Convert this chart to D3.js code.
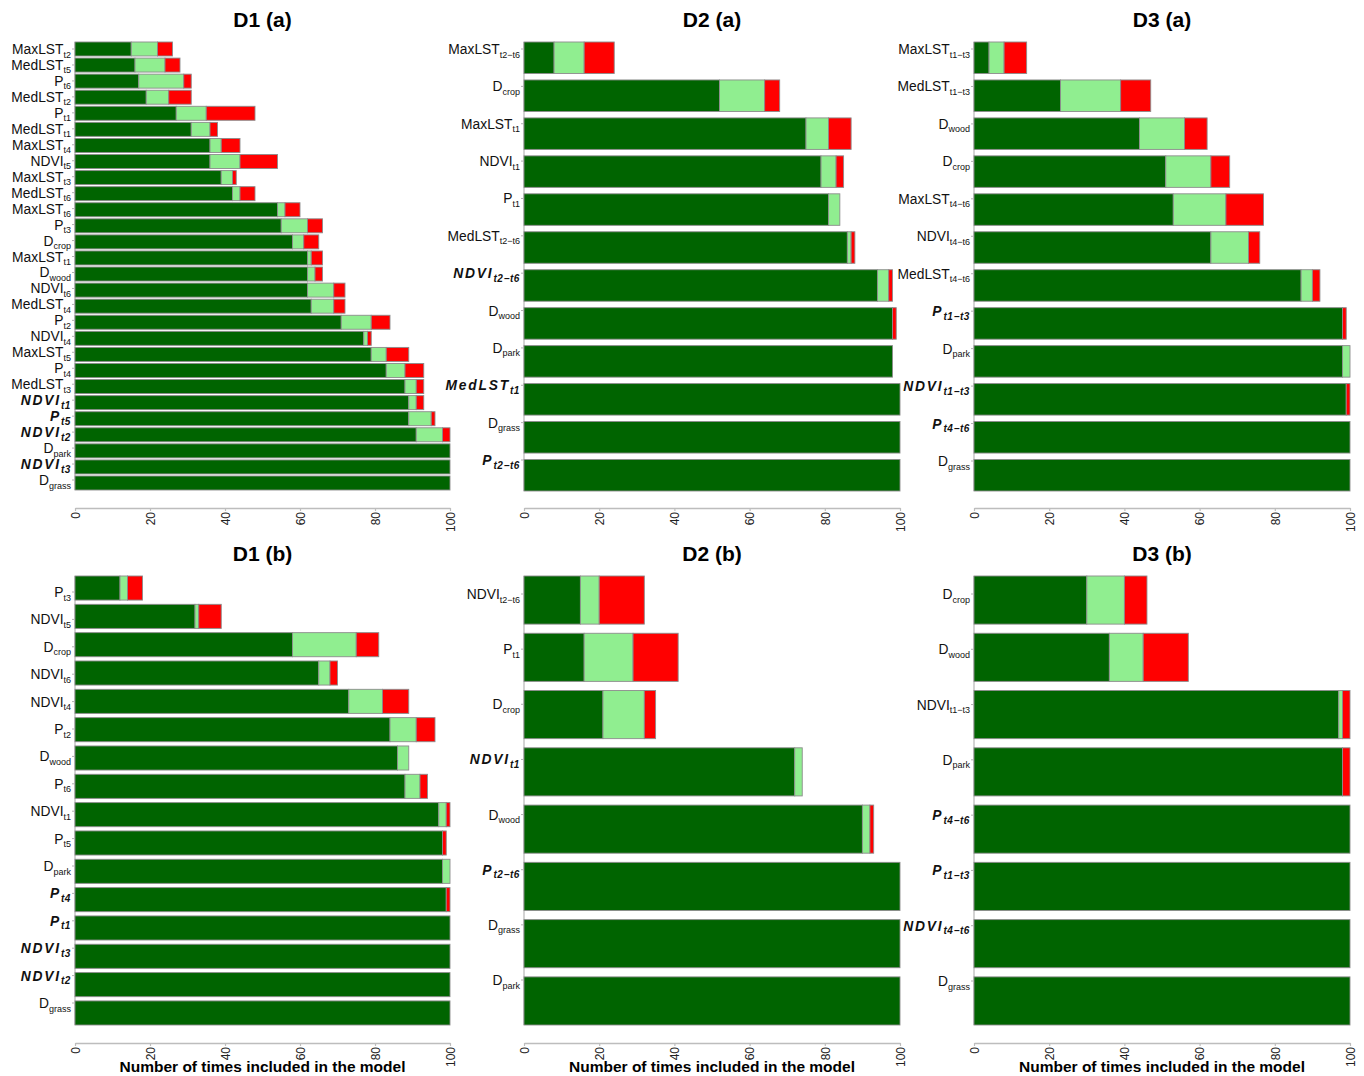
<!DOCTYPE html>
<html>
<head>
<meta charset="utf-8">
<script src="https://cdn.jsdelivr.net/npm/d3@7"></script>
<style>
body{margin:0;background:#fff}
text{font-family:"Liberation Sans",Arial,sans-serif}
</style>
</head>
<body>
<svg id="chart" width="1364" height="1076"></svg>
<script>
// values: dark = selected, light = ..., red = ...  (per variable, out of 100)
// D1 (a)
var d1aLabels = ['MaxLST_t2','MedLST_t5','P_t6','MedLST_t2','P_t1','MedLST_t1','MaxLST_t4','NDVI_t5','MaxLST_t3','MedLST_t6',
                 'MaxLST_t6','P_t3','D_crop','MaxLST_t1','D_wood','NDVI_t6','MedLST_t4','P_t2','NDVI_t4','MaxLST_t5',
                 'P_t4','MedLST_t3','NDVI_t1','P_t5','NDVI_t2','D_park','NDVI_t3','D_grass'];
var d1aDark  = [15,16,17,19,27,31,36,36,39,42,54,55,58,62,62,62,63,71,77,79,83,88,89,89,91,100,100,100];
var d1aLight = [7,8,12,6,8,5,3,8,3,2,2,7,3,1,2,7,6,8,1,4,5,3,2,6,7,0,0,0];
var d1aRed   = [4,4,2,6,13,2,5,10,1,4,4,4,4,3,2,3,3,5,1,6,5,2,2,1,2,0,0,0];
var d1aBold  = ['NDVI_t1','P_t5','NDVI_t2','NDVI_t3'];

// D2 (a)
var d2aLabels = ['MaxLST_t2−t6','D_crop','MaxLST_t1','NDVI_t1','P_t1','MedLST_t2−t6','NDVI_t2−t6','D_wood','D_park','MedLST_t1','D_grass','P_t2−t6'];
var d2aDark  = [8,52,75,79,81,86,94,98,98,100,100,100];
var d2aLight = [8,12,6,4,3,1,3,0,0,0,0,0];
var d2aRed   = [8,4,6,2,0,1,1,1,0,0,0,0];
var d2aBold  = ['NDVI_t2−t6','MedLST_t1','P_t2−t6'];

// D3 (a)
var d3aLabels = ['MaxLST_t1−t3','MedLST_t1−t3','D_wood','D_crop','MaxLST_t4−t6','NDVI_t4−t6','MedLST_t4−t6','P_t1−t3','D_park','NDVI_t1−t3','P_t4−t6','D_grass'];
var d3aDark  = [4,23,44,51,53,63,87,98,98,99,100,100];
var d3aLight = [4,16,12,12,14,10,3,0,2,0,0,0];
var d3aRed   = [6,8,6,5,10,3,2,1,0,1,0,0];
var d3aBold  = ['P_t1−t3','NDVI_t1−t3','P_t4−t6'];

// D1 (b)
var d1bLabels = ['P_t3','NDVI_t5','D_crop','NDVI_t6','NDVI_t4','P_t2','D_wood','P_t6','NDVI_t1','P_t5','D_park','P_t4','P_t1','NDVI_t3','NDVI_t2','D_grass'];
var d1bDark  = [12,32,58,65,73,84,86,88,97,98,98,99,100,100,100,100];
var d1bLight = [2,1,17,3,9,7,3,4,2,0,2,0,0,0,0,0];
var d1bRed   = [4,6,6,2,7,5,0,2,1,1,0,1,0,0,0,0];
var d1bBold  = ['P_t4','P_t1','NDVI_t3','NDVI_t2'];

// D2 (b)
var d2bLabels = ['NDVI_t2−t6','P_t1','D_crop','NDVI_t1','D_wood','P_t2−t6','D_grass','D_park'];
var d2bDark  = [15,16,21,72,90,100,100,100];
var d2bLight = [5,13,11,2,2,0,0,0];
var d2bRed   = [12,12,3,0,1,0,0,0];
var d2bBold  = ['NDVI_t1','P_t2−t6'];

// D3 (b)
var d3bLabels = ['D_crop','D_wood','NDVI_t1−t3','D_park','P_t4−t6','P_t1−t3','NDVI_t4−t6','D_grass'];
var d3bDark  = [30,36,97,98,100,100,100,100];
var d3bLight = [10,9,1,0,0,0,0,0];
var d3bRed   = [6,12,2,2,0,0,0,0];
var d3bBold  = ['P_t4−t6','P_t1−t3','NDVI_t4−t6'];

var xTicks = [0,20,40,60,80,100];
var segKeys = ['dark','light','red'];
var segColors = {dark:'#006400', light:'#90ee90', red:'#ff0000'};
var axisTitle = 'Number of times included in the model';

var panels = [
  {title:'D1 (a)', labels:d1aLabels, dark:d1aDark, light:d1aLight, red:d1aRed, bold:d1aBold,
   x:[75,450], y:[42,490], pad:0.13, ly:[49,480], axisY:508, titleY:27, xlab:false},
  {title:'D2 (a)', labels:d2aLabels, dark:d2aDark, light:d2aLight, red:d2aRed, bold:d2aBold,
   x:[524,900], y:[42,491], pad:0.17, ly:[49,460], axisY:508, titleY:27, xlab:false},
  {title:'D3 (a)', labels:d3aLabels, dark:d3aDark, light:d3aLight, red:d3aRed, bold:d3aBold,
   x:[974,1350], y:[42,491], pad:0.17, ly:[49,461], axisY:508, titleY:27, xlab:false},
  {title:'D1 (b)', labels:d1bLabels, dark:d1bDark, light:d1bLight, red:d1bRed, bold:d1bBold,
   x:[75,450], y:[576,1025], pad:0.15, ly:[592,1003], axisY:1043, titleY:561, xlab:true},
  {title:'D2 (b)', labels:d2bLabels, dark:d2bDark, light:d2bLight, red:d2bRed, bold:d2bBold,
   x:[524,900], y:[576,1025], pad:0.16, ly:[594,980], axisY:1043, titleY:561, xlab:true},
  {title:'D3 (b)', labels:d3bLabels, dark:d3bDark, light:d3bLight, red:d3bRed, bold:d3bBold,
   x:[974,1350], y:[576,1025], pad:0.16, ly:[594,981], axisY:1043, titleY:561, xlab:true}
];

var svg = d3.select('#chart');

panels.forEach(function(p){
  var g = svg.append('g');

  var rows = p.labels.map(function(l,i){
    return {key:l, dark:p.dark[i], light:p.light[i], red:p.red[i]};
  });

  var x = d3.scaleLinear().domain([0,100]).range(p.x);
  var y = d3.scaleBand().domain(p.labels).range(p.y).paddingInner(p.pad).paddingOuter(0);
  var ly = d3.scalePoint().domain(p.labels).range(p.ly);

  // y axis line
  g.append('line')
    .attr('x1',p.x[0]).attr('x2',p.x[0])
    .attr('y1',p.y[0]).attr('y2',p.y[1])
    .attr('stroke','#c4c4c4').attr('stroke-width',1.5);

  var series = d3.stack().keys(segKeys)(rows);

  g.selectAll('g.seg')
    .data(series)
    .enter().append('g')
    .attr('class','seg')
    .attr('fill',function(s){ return segColors[s.key]; })
    .selectAll('rect')
    .data(function(s){ return s.filter(function(d){ return d[1]-d[0] > 0; }); })
    .enter().append('rect')
    .attr('x',function(d){ return x(d[0]); })
    .attr('width',function(d){ return x(d[1])-x(d[0]); })
    .attr('y',function(d){ return y(d.data.key); })
    .attr('height',y.bandwidth())
    .attr('stroke','#8c8c8c')
    .attr('stroke-width',0.9);

  // variable labels with subscripts
  p.labels.forEach(function(l){
    var parts = l.split('_');
    var isBold = p.bold.indexOf(l) >= 0;
    var yy = ly(l);
    g.append('line')
      .attr('x1',p.x[0]-3).attr('x2',p.x[0])
      .attr('y1',yy).attr('y2',yy)
      .attr('stroke','#b0b0b0');
    var t = g.append('text')
      .attr('x',p.x[0]-4)
      .attr('y',yy+5)
      .attr('text-anchor','end')
      .attr('fill','#111')
      .style('font-size','13.8px');
    if(isBold){
      t.style('font-weight','bold').style('font-style','italic');
    }
    t.append('tspan').text(parts[0])
      .style('letter-spacing',isBold ? '1.8px' : '0px');
    t.append('tspan').text(parts[1])
      .attr('dy',3.5)
      .style('font-size', isBold ? '10px' : '9px')
      .style('letter-spacing',isBold ? '0.6px' : '0px');
  });

  // x axis
  var ax = g.append('g')
    .attr('transform','translate(0,'+p.axisY+')')
    .call(d3.axisBottom(x).tickValues(xTicks).tickSize(3).tickSizeOuter(0));
  ax.select('.domain').attr('stroke','#bdbdbd').attr('stroke-width',1.5);
  ax.selectAll('.tick line').attr('stroke','#bdbdbd').attr('stroke-width',1.2);
  ax.selectAll('.tick text')
    .attr('transform','rotate(-90)')
    .attr('x',-4).attr('y',0).attr('dy','0.35em')
    .attr('text-anchor','end')
    .attr('fill','#222')
    .style('font-size','12px')
    .style('font-family','"Liberation Sans",Arial,sans-serif');

  // title
  g.append('text')
    .attr('x',(p.x[0]+p.x[1])/2)
    .attr('y',p.titleY)
    .attr('text-anchor','middle')
    .style('font-size','21px')
    .style('font-weight','bold')
    .text(p.title);

  if(p.xlab){
    g.append('text')
      .attr('x',(p.x[0]+p.x[1])/2)
      .attr('y',1072)
      .attr('text-anchor','middle')
      .style('font-size','15.5px')
      .style('font-weight','bold')
      .text(axisTitle);
  }
});
</script>
</body>
</html>
